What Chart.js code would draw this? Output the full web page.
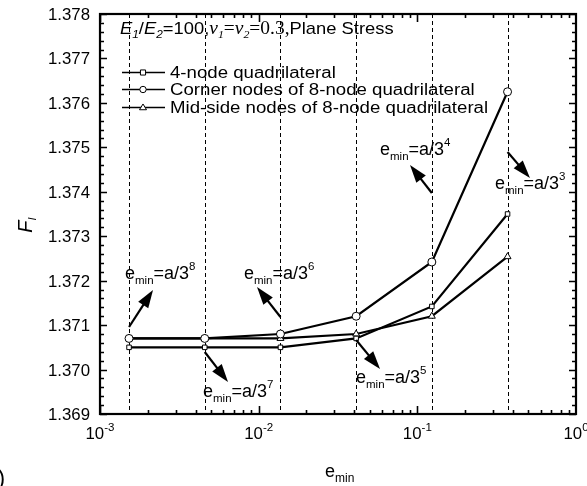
<!DOCTYPE html>
<html><head><meta charset="utf-8">
<script src="https://cdn.jsdelivr.net/npm/chart.js@4"></script>
<style>html,body{margin:0;padding:0;background:#fff}#wrap{width:587px;height:486px}</style>
</head><body><div id="wrap"><canvas id="c" width="587" height="486"></canvas></div>
<script>
// ---- data ----
const eMin = [0.0015242, 0.0045725, 0.0137174, 0.0411523, 0.1234568, 0.3703704];
const fourNode = [1.3705, 1.3705, 1.3705, 1.3707, 1.37142, 1.3735];
const cornerNodes = [1.3707, 1.3707, 1.3708, 1.3712, 1.37242, 1.37625];
const midNodes = [1.3707, 1.3707, 1.3707, 1.3708, 1.3712, 1.37254];
const seriesNames = ['4-node quadrilateral', 'Corner nodes of 8-node quadrilateral', 'Mid-side nodes of 8-node quadrilateral'];
const yTicks = [1.369, 1.370, 1.371, 1.372, 1.373, 1.374, 1.375, 1.376, 1.377, 1.378];
const yTickLabels = ['1.369','1.370','1.371','1.372','1.373','1.374','1.375','1.376','1.377','1.378'];
const xTicks = [0.001, 0.01, 0.1, 1];
const xTickExp = ['-3','-2','-1','0'];
// annotation labels: power k, text anchor (x,y data), arrow tail, arrow head (data)
const annPower = ['8','6','7','5','4','3'];
const annTextX = [0.001437, 0.00808, 0.004457, 0.04107, 0.0582, 0.3087];
const annTextY = [1.372195, 1.372195, 1.36954, 1.369833, 1.374985, 1.374198];
const arrowTailX = [0.0015242, 0.0137174, 0.0045725, 0.0411523, 0.1234568, 0.3703704];
const arrowTailY = [1.370958, 1.371183, 1.370395, 1.370665, 1.373973, 1.374895];
const arrowHeadX = [0.002158, 0.00976, 0.00641, 0.0582, 0.0899, 0.5129];
const arrowHeadY = [1.37179, 1.371858, 1.36972, 1.370013, 1.374603, 1.37431];

const mk = (ys) => eMin.map((x, i) => ({x, y: ys[i]}));
const styles = ['rect', 'circle', 'triangle'];
const AR = 'Arial, "Liberation Sans", sans-serif';
const TM = '"Liberation Serif", "DejaVu Serif", serif';

function rich(ctx, segs, x, y, sx, align) {
  ctx.save();
  let w = 0;
  segs.forEach(s => { ctx.font = s.f; w += ctx.measureText(s.t).width; });
  ctx.translate(x, y);
  ctx.scale(sx, 1);
  let cx = align === 'right' ? -w : (align === 'center' ? -w / 2 : 0);
  ctx.textBaseline = 'alphabetic';
  ctx.textAlign = 'left';
  ctx.fillStyle = '#000';
  segs.forEach(s => { ctx.font = s.f; ctx.fillText(s.t, cx, s.dy || 0); cx += ctx.measureText(s.t).width; });
  ctx.restore();
}

function drawMarker(ctx, style, x, y, r) {
  ctx.save();
  ctx.fillStyle = '#fff'; ctx.strokeStyle = '#000'; ctx.lineWidth = 1;
  ctx.beginPath();
  if (style === 'rect') { ctx.rect(x - r * 0.8, y - r * 0.8, r * 1.6, r * 1.6); }
  else if (style === 'circle') { ctx.arc(x, y, r, 0, Math.PI * 2); }
  else { ctx.moveTo(x, y - r * 1.1); ctx.lineTo(x + r * 1.1, y + r * 0.7); ctx.lineTo(x - r * 1.1, y + r * 0.7); ctx.closePath(); }
  ctx.fill(); ctx.stroke();
  ctx.restore();
}

function arrow(ctx, x1, y1, x2, y2) {
  const ang = Math.atan2(y2 - y1, x2 - x1);
  const L = 18, W = 6;
  const bx = x2 - L * Math.cos(ang), by = y2 - L * Math.sin(ang);
  ctx.save();
  ctx.strokeStyle = '#000'; ctx.fillStyle = '#000'; ctx.lineWidth = 2.2;
  ctx.beginPath(); ctx.moveTo(x1, y1); ctx.lineTo(bx + 2 * Math.cos(ang), by + 2 * Math.sin(ang)); ctx.stroke();
  ctx.beginPath();
  ctx.moveTo(x2, y2);
  ctx.lineTo(bx + W * Math.sin(ang), by - W * Math.cos(ang));
  ctx.lineTo(bx - W * Math.sin(ang), by + W * Math.cos(ang));
  ctx.closePath(); ctx.fill();
  ctx.restore();
}

const deco = {
  id: 'deco',
  beforeDatasetsDraw(chart) {
    const {ctx, chartArea: a, scales: {x, y}} = chart;
    ctx.save();
    ctx.strokeStyle = '#000'; ctx.lineWidth = 1; ctx.setLineDash([4, 3]);
    eMin.forEach(v => {
      const px = Math.round(x.getPixelForValue(v)) + 0.5;
      ctx.beginPath(); ctx.moveTo(px, a.top); ctx.lineTo(px, a.bottom); ctx.stroke();
    });
    ctx.restore();
  },
  afterDraw(chart) {
    const {ctx, chartArea: a, scales: {x, y}} = chart;
    ctx.save();
    ctx.strokeStyle = '#000';
    // ticks
    ctx.lineWidth = 1.6;
    for (let k = 0; k <= 45; k++) {
      const v = 1.369 + k * 0.0002;
      const py = Math.round(y.getPixelForValue(v)) + 0.5;
      const len = (k % 5 === 0) ? 7 : 4;
      ctx.beginPath();
      ctx.moveTo(a.left, py); ctx.lineTo(a.left + len, py);
      ctx.moveTo(a.right, py); ctx.lineTo(a.right - len, py);
      ctx.stroke();
    }
    for (let d = -3; d < 0; d++) {
      for (let m = 1; m <= 9; m++) {
        const v = m * Math.pow(10, d);
        const px = Math.round(x.getPixelForValue(v)) + 0.5;
        const len = m === 1 ? 8 : 4;
        ctx.beginPath();
        ctx.moveTo(px, a.bottom); ctx.lineTo(px, a.bottom - len);
        ctx.moveTo(px, a.top); ctx.lineTo(px, a.top + len);
        ctx.stroke();
      }
    }
    // frame
    ctx.lineWidth = 2.2;
    ctx.strokeRect(a.left, a.top, a.right - a.left, a.bottom - a.top);
    ctx.restore();

    // y tick labels
    yTicks.forEach((v, i) => {
      const py = y.getPixelForValue(v);
      rich(ctx, [{t: yTickLabels[i], f: '16px ' + AR}], a.left - 10, py + 6, 1.05, 'right');
    });
    // x tick labels
    xTicks.forEach((v, i) => {
      const px = x.getPixelForValue(v);
      rich(ctx, [{t: '10', f: '16px ' + AR}, {t: xTickExp[i], f: '11px ' + AR, dy: -8}], px, a.bottom + 25, 1.05, 'center');
    });
    // axis titles
    rich(ctx, [{t: 'e', f: '18px ' + AR}, {t: 'min', f: '12px ' + AR, dy: 5}], 325, 477, 1.0, 'left');
    ctx.save();
    ctx.translate(32, 225);
    ctx.rotate(-Math.PI / 2);
    rich(ctx, [{t: 'F', f: 'italic 20px ' + AR}, {t: 'I', f: 'italic 11px ' + AR, dy: 4}], 0, 0, 1.0, 'center');
    ctx.restore();
    // cut-off panel label
    rich(ctx, [{t: '(b)', f: '22px ' + AR}], 5, 485, 1.0, 'right');

    // condition title
    rich(ctx, [
      {t: 'E', f: 'italic 17px ' + AR},
      {t: '1', f: 'italic 11px ' + AR, dy: 4},
      {t: '/', f: '17px ' + AR},
      {t: 'E', f: 'italic 17px ' + AR},
      {t: '2', f: 'italic 11px ' + AR, dy: 4},
      {t: '=100,', f: '17px ' + AR},
      {t: 'ν', f: 'italic 18px ' + TM},
      {t: '1', f: 'italic 11px ' + TM, dy: 4},
      {t: '=', f: '18px ' + TM},
      {t: 'ν', f: 'italic 18px ' + TM},
      {t: '2', f: 'italic 11px ' + TM, dy: 4},
      {t: '=0.3,', f: '18px ' + TM},
      {t: 'Plane Stress', f: '17px ' + AR}
    ], 120, 34, 1.08, 'left');

    // legend
    const rowY = [72, 89, 107];
    seriesNames.forEach((name, i) => {
      const cy = rowY[i];
      ctx.save();
      ctx.strokeStyle = '#000'; ctx.lineWidth = 1.6;
      ctx.beginPath(); ctx.moveTo(122, cy + 0.5); ctx.lineTo(165, cy + 0.5); ctx.stroke();
      ctx.restore();
      drawMarker(ctx, styles[i], 143, cy + 0.5, 3.2);
      rich(ctx, [{t: name, f: '16px ' + AR}], 170, cy + 6, 1.165, 'left');
    });

    // annotations
    annPower.forEach((p, i) => {
      arrow(ctx, x.getPixelForValue(arrowTailX[i]), y.getPixelForValue(arrowTailY[i]),
                 x.getPixelForValue(arrowHeadX[i]), y.getPixelForValue(arrowHeadY[i]));
      const tx = x.getPixelForValue(annTextX[i]);
      const ty = y.getPixelForValue(annTextY[i]) + 6.5;
      rich(ctx, [
        {t: 'e', f: '18px ' + AR},
        {t: 'min', f: '11.5px ' + AR, dy: 5},
        {t: '=a/3', f: '18px ' + AR},
        {t: p, f: '11.5px ' + AR, dy: -9}
      ], tx, ty, 1.0, 'left');
    });
  }
};

new Chart(document.getElementById('c'), {
  type: 'line',
  data: {
    datasets: [fourNode, cornerNodes, midNodes].map((ys, i) => ({
      label: seriesNames[i],
      data: mk(ys),
      borderColor: '#000',
      borderWidth: 2.2,
      pointStyle: styles[i],
      pointRadius: i === 0 ? 3.2 : 4,
      pointBackgroundColor: '#fff',
      pointBorderColor: '#000',
      pointBorderWidth: 1,
      tension: 0,
      fill: false
    }))
  },
  options: {
    responsive: false,
    animation: false,
    devicePixelRatio: 1,
    layout: {padding: {left: 100, right: 11, top: 14, bottom: 72}},
    plugins: {legend: {display: false}, tooltip: {enabled: false}, title: {display: false}},
    scales: {
      x: {type: 'logarithmic', min: 0.001, max: 1, display: false},
      y: {type: 'linear', min: 1.369, max: 1.378, display: false}
    }
  },
  plugins: [deco]
});
</script>
</body></html>
